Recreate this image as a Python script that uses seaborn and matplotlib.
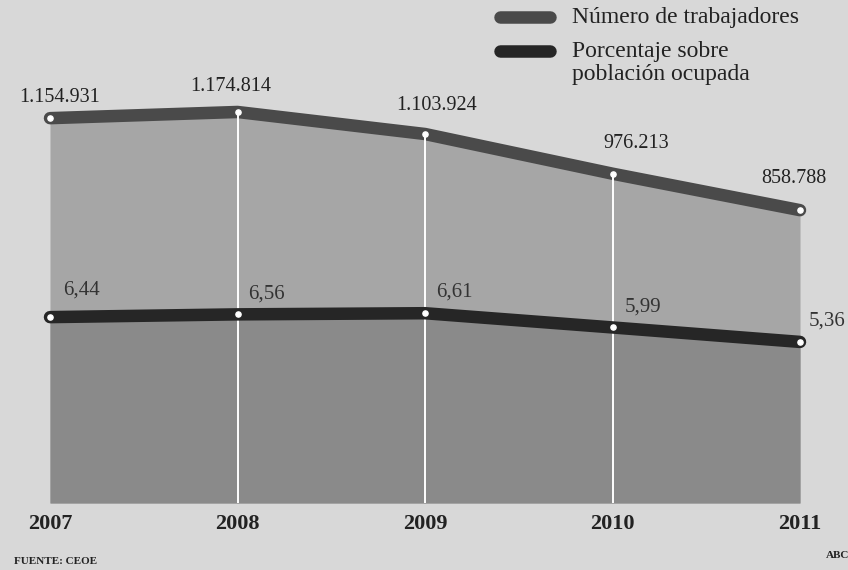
import matplotlib
matplotlib.use("Agg")
import matplotlib.pyplot as plt
import seaborn as sns
import pandas as pd

years = ["2007", "2008", "2009", "2010", "2011"]
workers = [1154931, 1174814, 1103924, 976213, 858788]
workers_labels = ["1.154.931", "1.174.814", "1.103.924", "976.213", "858.788"]
pct = [6.44, 6.56, 6.61, 5.99, 5.36]
pct_labels = ["6,44", "6,56", "6,61", "5,99", "5,36"]
legend_labels = ["Número de trabajadores", "Porcentaje sobre\npoblación ocupada"]
source = "FUENTE: CEOE"

sns.set_theme(style="white")
plt.rcParams["font.family"] = ["Liberation Serif", "DejaVu Serif"]

BG = "#d8d8d8"
TOP_FILL = "#a6a6a6"
LOW_FILL = "#8a8a8a"
W_LINE = "#4a4a4a"
P_LINE = "#262626"

df = pd.DataFrame({"x": range(len(years)), "year": years, "workers": workers, "pct": pct})

fig = plt.figure(figsize=(8.48, 5.70), dpi=100, facecolor=BG)
ax = fig.add_axes([50/848, 67/570, 750/848, 486/570])
ax.set_facecolor("none")
ax2 = ax.twinx()
ax2.set_facecolor("none")

ax.set_xlim(0, len(years) - 1)
ax.set_ylim(-83700, 1.4805e6)
ax2.set_ylim(-1.655, 19.51)

ax.fill_between(df["x"], -83700, df["workers"], color=TOP_FILL, lw=0, zorder=1)
ax2.fill_between(df["x"], -1.655, df["pct"], color=LOW_FILL, lw=0, zorder=1)

# white vertical separators (drawn above both fills, in workers coordinates)
for i in range(1, len(years) - 1):
    ax2.vlines(i, -83700, workers[i], color="white", lw=1.4, zorder=2,
               transform=ax.transData)

sns.lineplot(data=df, x="x", y="workers", ax=ax, color=W_LINE, lw=9,
             solid_capstyle="round", zorder=4, legend=False)
ax.scatter(df["x"], df["workers"], s=14, color="white", zorder=5, clip_on=False)
sns.lineplot(data=df, x="x", y="pct", ax=ax2, color=P_LINE, lw=9,
             solid_capstyle="round", zorder=4, legend=False)
ax2.scatter(df["x"], df["pct"], s=14, color="white", zorder=5, clip_on=False)
for a in (ax, ax2):
    for l in a.lines:
        l.set_clip_on(False)

w_off = [(10, 21), (-7, 25), (12, 29), (24, 30), (-6, 32)]
p_off = [(32, 27), (29, 20), (29, 21), (30, 20), (27, 21)]
for i in range(len(years)):
    ax.annotate(workers_labels[i], (i, workers[i]), xytext=(w_off[i][0], w_off[i][1]),
                textcoords="offset pixels", ha="center", va="center",
                fontsize=14.5, color="#222222", zorder=6, annotation_clip=False)
    ax2.annotate(pct_labels[i], (i, pct[i]), xytext=(p_off[i][0], p_off[i][1]),
                 textcoords="offset pixels", ha="center", va="center",
                 fontsize=15, color="#333333", zorder=6,
                 annotation_clip=False)

ax.set_xticks(range(len(years)))
ax.set_xticklabels(years, fontsize=16, fontweight="bold", color="#222222")
ax.tick_params(axis="x", length=0, pad=8)
ax.set_yticks([])
ax2.set_yticks([])
ax.set_xlabel("")
ax.set_ylabel("")
ax2.set_ylabel("")
for a in (ax, ax2):
    for s in a.spines.values():
        s.set_visible(False)

# legend
fig.lines.append(plt.Line2D([500/848, 550/848], [1 - 17/570, 1 - 17/570],
                            transform=fig.transFigure, color=W_LINE, lw=9,
                            solid_capstyle="round"))
fig.lines.append(plt.Line2D([500/848, 550/848], [1 - 51/570, 1 - 51/570],
                            transform=fig.transFigure, color=P_LINE, lw=9,
                            solid_capstyle="round"))
fig.text(572/848, 1 - 17/570, legend_labels[0], fontsize=17, va="center",
         ha="left", color="#222222")
fig.text(572/848, 1 - 63/570, legend_labels[1], fontsize=17, va="center",
         ha="left", color="#222222", linespacing=1.15)

fig.text(14/848, 8/570, source, fontsize=8, fontweight="bold", color="#222222",
         va="center", ha="left")
fig.text(826/848, 15/570, "ABC", fontsize=8, fontweight="bold", color="#222222",
         va="center", ha="left")

fig.savefig("out.png", dpi=100, facecolor=BG)
